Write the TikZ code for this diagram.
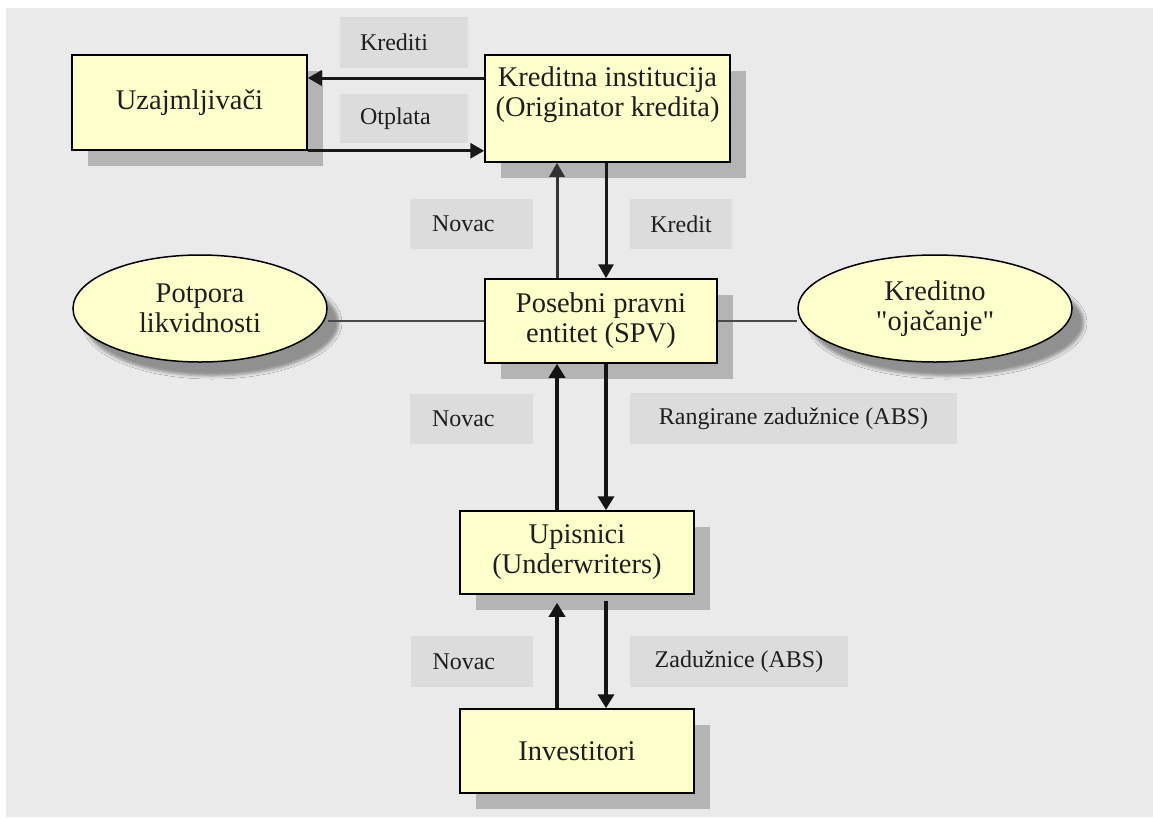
\documentclass[tikz,border=0pt]{standalone}
\usepackage{fontspec}
\setmainfont{Liberation Serif}
\newfontfamily\qtfont{Liberation Serif}
\usetikzlibrary{arrows.meta,shapes.geometric,shadows,shadows.blur}
\definecolor{bgcol}{HTML}{EAEAEA}
\definecolor{lblbg}{HTML}{DCDCDC}
\definecolor{boxfill}{HTML}{FFFFCC}
\definecolor{shd}{HTML}{B4B4B4}
\definecolor{txtcol}{HTML}{1E1E1E}
\definecolor{upcol}{HTML}{333333}
\definecolor{linkcol}{HTML}{4A4A4A}
\newcommand\bxfont{\fontsize{28.5}{30}\selectfont}
\newcommand\lbfont{\fontsize{24}{28}\selectfont}
\newcommand\sq{{\qtfont"}}
\begin{document}
\begin{tikzpicture}[x=1pt,y=-1pt,
  entity/.style={rectangle, draw=black, line width=1.5pt, fill=boxfill, inner sep=0pt,
    align=center, font=\bxfont, text=txtcol,
    drop shadow={shadow xshift=16pt, shadow yshift=-16pt, fill=shd, opacity=1}},
  plain/.style={inner sep=0pt, align=center, font=\bxfont, text=txtcol},
  oval/.style={ellipse, draw=black, line width=1.5pt, fill=boxfill, inner sep=0pt,
    align=center, font=\bxfont, text=txtcol,
    blur shadow={shadow xshift=12pt, shadow yshift=-14pt, shadow blur radius=3pt, shadow opacity=38}},
  tag/.style={fill=lblbg, inner ysep=0pt, font=\lbfont, text=txtcol},
  flow/.style={-{Triangle[width=15pt,length=14pt]}, line width=3pt, draw=black!90},
  flowup/.style={-{Triangle[width=15pt,length=14pt]}, line width=3pt, draw=upcol},
  flowbig/.style={-{Triangle[width=16pt,length=14pt]}, line width=3.5pt, draw=black!92},
  link/.style={line width=2.5pt, draw=linkcol}
]
\useasboundingbox (0,0) rectangle (1153,817);
\fill[white] (0,0) rectangle (1153,817);
\fill[bgcol] (6,8) rectangle (1153,817);

% labels
\node[tag, inner xsep=20pt, text width=88pt, align=left, minimum height=51pt] (lkrediti) at (404,42.5) {Krediti};
\node[tag, inner xsep=20pt, text width=88pt, align=left, minimum height=49pt] (lotplata) at (404,118.5) {Otplata};
\node[tag, inner xsep=22pt, text width=79pt, align=left, minimum height=50pt] (lnovac1) at (471.5,224) {Novac};
\node[tag, minimum width=102pt, minimum height=50pt] (lkredit) at (681,224) {Kredit};
\node[tag, inner xsep=22pt, text width=79pt, align=left, minimum height=50pt] (lnovac2) at (471.5,419) {Novac};
\node[tag, minimum width=327pt, minimum height=51pt] (lrang) at (793.5,418.5) {Rangirane zadužnice (ABS)};
\node[tag, inner xsep=22pt, text width=78pt, align=left, minimum height=51pt] (lnovac3) at (471.5,661.5) {Novac};
\node[tag, minimum width=218pt, minimum height=51pt] (lzad) at (739,661.5) {Zadužnice (ABS)};

% boxes
\node[entity, minimum width=235pt, minimum height=95pt] (uz) at (189.5,102.5) {Uzajmljivači};
\node[entity, minimum width=245pt, minimum height=107pt] (ki) at (607.5,108.5) {};
\node[plain] (kitext) at (607.5,95) {Kreditna institucija\\(Originator kredita)};
\node[entity, minimum width=232pt, minimum height=84pt] (spv) at (601,321) {Posebni pravni\\entitet (SPV)};
\node[entity, minimum width=234pt, minimum height=83pt] (up) at (577,552.5) {Upisnici\\(Underwriters)};
\node[entity, minimum width=234pt, minimum height=84pt] (inv) at (577,751) {Investitori};

% ellipses
\node[oval, minimum width=254pt, minimum height=107pt] (pot) at (200,308.5) {Potpora\\likvidnosti};
\node[oval, minimum width=274pt, minimum height=107pt] (kre) at (935,308.5) {Kreditno\\\sq ojačanje\sq};

% helper coordinates
\coordinate (yk) at (0,78);
\coordinate (xu) at (557,0);
\coordinate (xd) at (606,0);
\coordinate (upb) at ([yshift=-8pt]up.south);
\coordinate (upc) at ([yshift=-6pt]up.south);

% connectors
\draw[flow] (ki.west |- yk) -- (uz.east |- yk);
\draw[flow] (uz.south east) -- (ki.west |- uz.south east);
\draw[flowup] (xu |- spv.north) -- (xu |- ki.south);
\draw[flow] (xd |- ki.south) -- (xd |- spv.north);
\draw[link] (pot.east |- spv.west) -- (spv.west);
\draw[link] (spv.east) -- (spv.east -| kre.west);
\draw[flowbig] (xu |- up.north) -- (xu |- spv.south);
\draw[flowbig] (xd |- spv.south) -- (xd |- up.north);
\draw[flowbig] (xu |- inv.north) -- (xu |- upb);
\draw[flowbig] (xd |- upc) -- (xd |- inv.north);
\end{tikzpicture}
\end{document}
